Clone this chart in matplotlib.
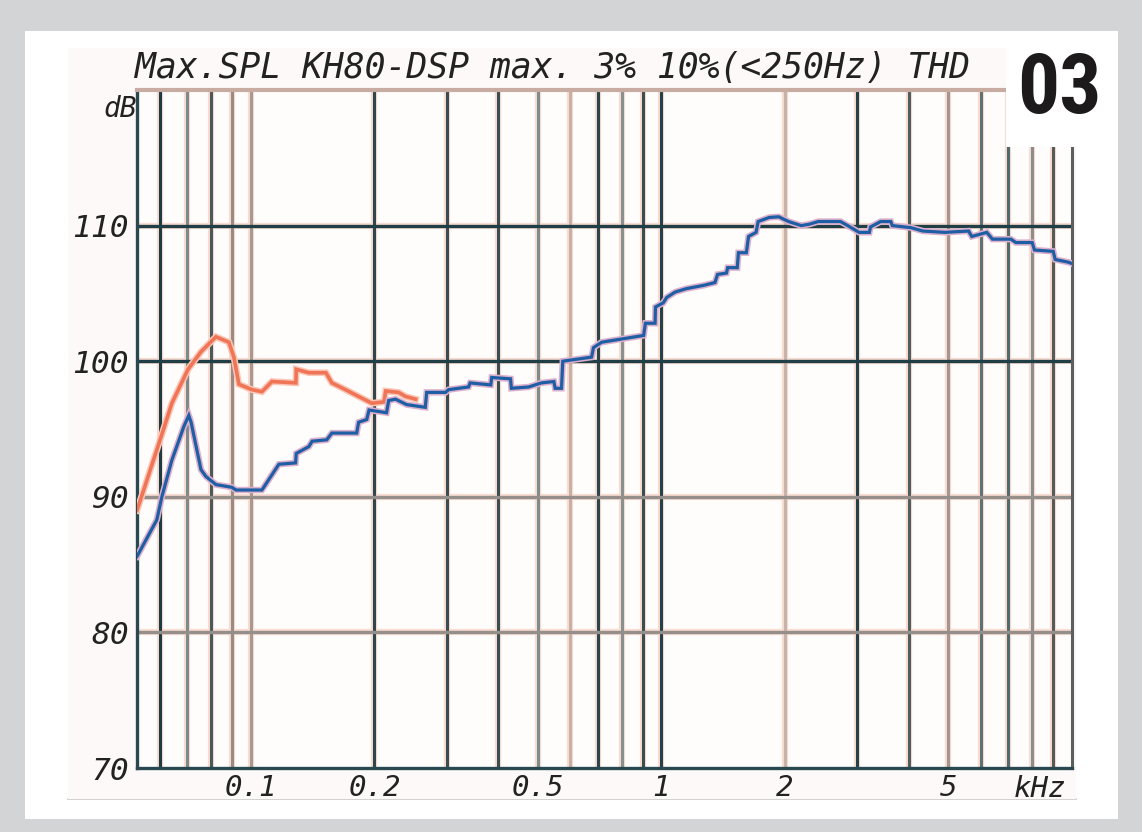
import matplotlib.pyplot as plt
from matplotlib.patches import Rectangle
from matplotlib.lines import Line2D

# Max. SPL (Hz, dB)
blue_hz = [52.8, 59, 60.7, 64.2, 68.7, 70.6, 71.5, 75.6, 77.7, 82.2, 89.9, 92, 106.4, 117, 128.5,
           129, 138.4, 141, 153, 157.5, 181, 183, 191.5, 194, 214, 216.6, 225, 239.6, 266, 268,
           298, 303, 339, 342, 384, 386, 429, 431, 475, 510, 547, 551, 571, 575, 676, 683, 715,
           905, 914, 965, 967, 1010, 1030, 1080, 1150, 1270, 1350, 1370, 1440, 1450, 1530, 1540,
           1610, 1630, 1700, 1720, 1830, 1930, 2040, 2190, 2290, 2410, 2730, 2880, 3030, 3210,
           3230, 3420, 3620, 3650, 4050, 4330, 4900, 5600, 5700, 6200, 6400, 7100, 7300, 8000,
           8100, 9000, 9100, 9800, 10000]
blue_db = [85.6, 88.3, 90.0, 92.7, 95.2, 96.0, 95.5, 92.0, 91.5, 90.9, 90.7, 90.5, 90.5, 92.4, 92.5,
           93.2, 93.7, 94.1, 94.2, 94.7, 94.7, 95.5, 95.7, 96.4, 96.2, 97.1, 97.2, 96.8, 96.6, 97.7,
           97.7, 97.9, 98.1, 98.4, 98.25, 98.8, 98.7, 98.0, 98.1, 98.4, 98.5, 98.0, 98.0, 100.0, 100.3, 101.0, 101.4,
           101.9, 102.8, 102.8, 104.0, 104.3, 104.7, 105.1, 105.35, 105.6, 105.8, 106.4, 106.5, 106.9, 106.9, 108.0,
           108.0, 109.2, 109.5, 110.3, 110.6, 110.65, 110.3, 110.0, 110.1, 110.3, 110.3, 109.9, 109.5, 109.5,
           109.9, 110.3, 110.3, 110.0, 109.85, 109.6, 109.5, 109.6, 109.2, 109.5, 109.0, 109.0, 108.75, 108.75,
           108.2, 108.1, 107.5, 107.3, 107.2]

orange_hz = [52.8, 60.4, 64.2, 70.3, 75.6, 82.2, 88.4, 90.9, 93.5, 100.6, 106.4, 112.5, 128.7, 129,
             138.4, 152.3, 157.5, 170, 183, 197, 211, 213, 229, 238, 252]
orange_db = [89.0, 94.4, 96.9, 99.4, 100.7, 101.8, 101.4, 100.3, 98.3, 97.9, 97.75, 98.5, 98.4, 99.4,
             99.15, 99.15, 98.4, 97.9, 97.4, 96.9, 97.0, 97.8, 97.7, 97.4, 97.2]

grid_hz = [60, 70, 80, 90, 100, 200, 300, 400, 500, 600, 700, 800, 900, 1000,
           2000, 3000, 4000, 5000, 6000, 7000, 8000, 9000]
grid_col = ['#1c3c44', '#7d8a8c', '#4a5a5c', '#9a8a84', '#a89890', '#2f474c', '#3a4d52', '#3a4d52',
            '#7f8c8e', '#c9b0a6', '#2a464c', '#8a9090', '#3a4d52', '#23414a',
            '#c8b3aa', '#23414a', '#4f5f60', '#a39690', '#5c7274', '#506a6e', '#8a8e8e', '#555a5a']
ytick_vals = [70, 80, 90, 100, 110]
ytick_labels = ['70', '80', '90', '100', '110']
xtick_vals = [100, 200, 500, 1000, 2000, 5000]
xtick_labels = ['0.1', '0.2', '0.5', '1', '2', '5']

W, H = 1142, 832
fig = plt.figure(figsize=(W / 100, H / 100), dpi=100)
fig.patch.set_facecolor('#d3d4d6')
fig.patches.append(Rectangle((25 / W, 1 - 819 / H), (1118 - 25) / W, (819 - 31) / H,
                             transform=fig.transFigure, facecolor='white', edgecolor='none', zorder=-2))
fig.patches.append(Rectangle((68 / W, 1 - 799 / H), (1076 - 68) / W, (799 - 48) / H,
                             transform=fig.transFigure, facecolor='#fdf9f8', edgecolor='none', zorder=-1))
fig.lines.append(Line2D([68 / W, 1076 / W], [1 - 799 / H, 1 - 799 / H], transform=fig.transFigure,
                        color='#c9c9c9', lw=1.2, zorder=-1))

ax = fig.add_axes([137 / W, 1 - 768 / H, (1072 - 137) / W, (768 - 90) / H])
ax.set_zorder(1)
ax.set_facecolor('#fffdfc')
ax.set_xscale('log')
ax.set_xlim(52.8, 10000)
ax.set_ylim(70, 120)

mono = 'DejaVu Sans Mono'

# grid (with the pale pink misprint next to each line)
for f, c in zip(grid_hz, grid_col):
    ax.axvline(f, color='#f8dcd1', lw=4.5, zorder=1)
    ax.axvline(f, color=c, lw=2.2, zorder=2)
for v, c in zip([80, 90, 100, 110], ['#958f8b', '#958f8b', '#1f3e46', '#1f3e46']):
    ax.axhline(v, color='#f8dcd1', lw=4.5, zorder=1)
    ax.axhline(v, color=c, lw=2.4, zorder=2)

ax.plot(orange_hz, orange_db, color='#fac6b6', lw=4.8, zorder=3, solid_joinstyle='miter')
ax.plot(orange_hz, orange_db, color='#ef7556', lw=2.6, zorder=4, solid_joinstyle='miter')
ax.plot(blue_hz, blue_db, color='#dcb0cc', lw=4.6, zorder=5, solid_joinstyle='miter')
ax.plot(blue_hz, blue_db, color='#1d5ea5', lw=2.3, zorder=6, solid_joinstyle='miter')

for s in ['left', 'bottom']:
    ax.spines[s].set_color('#2a4850')
    ax.spines[s].set_linewidth(2.4)
ax.spines['top'].set_color('#c8aca2')
ax.spines['top'].set_linewidth(3)
ax.spines['right'].set_color('#5a5f60')
ax.spines['right'].set_linewidth(2.2)

ax.set_yticks(ytick_vals)
ax.set_yticklabels(ytick_labels, fontfamily=mono, fontstyle='italic', fontsize=22.5, color='#222')
ax.set_xticks(xtick_vals)
ax.set_xticklabels(xtick_labels, fontfamily=mono, fontstyle='italic', fontsize=21, color='#222')
ax.minorticks_off()
ax.tick_params(axis='both', length=0)
ax.tick_params(axis='y', pad=6)
ax.tick_params(axis='x', pad=4)

fig.text(1040 / W, 1 - 789 / H, 'kHz', ha='center', va='center',
         fontfamily=mono, fontstyle='italic', fontsize=21, color='#222', zorder=3)
fig.text(137 / W, 1 - 109 / H, 'dB', ha='right', va='center',
         fontfamily=mono, fontstyle='italic', fontsize=20, color='#222', zorder=3)
fig.text(135 / W, 1 - 68 / H, 'Max.SPL KH80-DSP max. 3% 10%(<250Hz) THD',
         ha='left', va='center', fontfamily=mono, fontstyle='italic', fontsize=25, color='#222', zorder=3)

# "03" box in the top right corner
fig.patches.append(Rectangle((1006 / W, 1 - 147 / H), (1118 - 1006) / W, (147 - 31) / H,
                             transform=fig.transFigure, facecolor='white', edgecolor='none', zorder=10))
fig.text(1059 / W, 1 - 90 / H, '03', ha='center', va='center', fontsize=60, fontweight='bold',
         fontstretch='condensed',
         family=['Roboto Condensed', 'Open Sans Condensed', 'Roboto', 'DejaVu Sans'],
         color='#1c1a1b', zorder=11)

fig.savefig('out.png', dpi=100, facecolor=fig.get_facecolor())
